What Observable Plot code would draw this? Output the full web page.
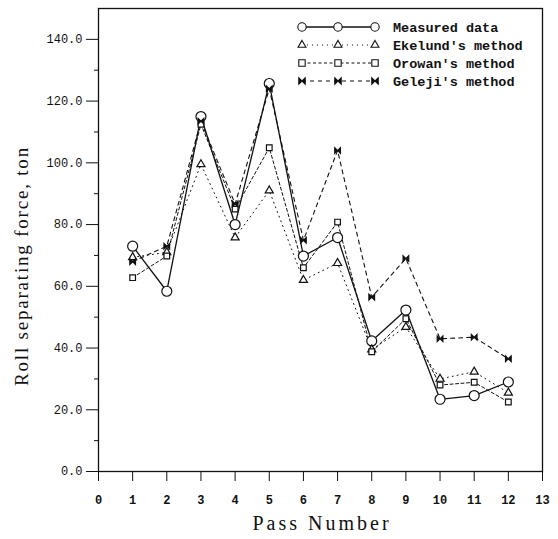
<!DOCTYPE html>
<html>
<head>
<meta charset="utf-8">
<script src="https://cdn.jsdelivr.net/npm/d3@7"></script>
<script src="https://cdn.jsdelivr.net/npm/@observablehq/plot@0.6"></script>
<style>
  html, body { margin: 0; padding: 0; background: #fff; }
  #chart { width: 558px; height: 539px; }
</style>
</head>
<body>
<div id="chart"></div>
<script>
// ---- data ----
const passes   = [1, 2, 3, 4, 5, 6, 7, 8, 9, 10, 11, 12];
const measured = [73.0, 58.4, 115.0, 80.0, 125.7, 69.8, 75.8, 42.3, 52.3, 23.4, 24.6, 29.0];
const ekelund  = [69.4, 71.0, 99.5, 75.8, 91.0, 62.0, 67.5, 39.5, 46.8, 30.0, 32.3, 25.5];
const orowan   = [62.8, 69.8, 112.5, 85.0, 104.9, 66.0, 80.8, 38.8, 49.5, 28.0, 28.9, 22.5];
const geleji   = [68.0, 73.0, 113.5, 86.7, 124.0, 74.9, 104.0, 56.5, 69.0, 43.0, 43.5, 36.5];
const seriesNames = ["Measured data", "Ekelund's method", "Orowan's method", "Geleji's method"];
const seriesValues = [measured, ekelund, orowan, geleji];
const yMajorTicks = [0, 20, 40, 60, 80, 100, 120, 140];
const yMinorTicks = [10, 30, 50, 70, 90, 110, 130];
const xTicks = [0, 1, 2, 3, 4, 5, 6, 7, 8, 9, 10, 11, 12, 13];

// ---- styles ----
const bowtie = {
  draw(context, size) {
    const r = Math.sqrt(size) / 2;
    context.moveTo(-r, -r);
    context.lineTo(-r, r);
    context.lineTo(r, -r);
    context.lineTo(r, r);
    context.closePath();
  }
};
const styles = {
  "Measured data":    {dash: null,    width: 1.3, symbol: "circle",   r: 5,   fill: "white"},
  "Ekelund's method": {dash: "1,4",   width: 1.0, symbol: "triangle", r: 3.0, fill: "white"},
  "Orowan's method":  {dash: "3,2.5", width: 1.0, symbol: "square",   r: 3.2, fill: "white"},
  "Geleji's method":  {dash: "4,4",   width: 1.1, symbol: bowtie,     r: 3.2, fill: "#111"}
};

const rows = [];
seriesNames.forEach((name, i) => {
  passes.forEach((p, j) => rows.push({series: name, pass: p, value: seriesValues[i][j]}));
});

const marks = [];
for (const name of seriesNames) {
  const s = styles[name];
  const d = rows.filter(r => r.series === name);
  marks.push(Plot.line(d, {x: "pass", y: "value", stroke: "#111", strokeWidth: s.width, strokeDasharray: s.dash}));
}
for (const name of seriesNames) {
  const s = styles[name];
  const d = rows.filter(r => r.series === name);
  marks.push(Plot.dot(d, {x: "pass", y: "value", symbol: () => s.symbol, r: s.r, stroke: "#111", strokeWidth: 1.2, fill: s.fill}));
}

const chart = Plot.plot({
  width: 558,
  height: 539,
  marginLeft: 98,
  marginRight: 16,
  marginTop: 8,
  marginBottom: 68,
  style: {background: "white", color: "#111"},
  x: {domain: [0, 13], label: null},
  y: {domain: [0, 150], label: null},
  symbol: {type: "identity"},
  marks: [
    Plot.frame({stroke: "#111", strokeWidth: 1.3}),
    Plot.axisY(yMajorTicks, {tickSize: 12, tickPadding: 4, tickFormat: d => d.toFixed(1), fontSize: 12, fontFamily: "Liberation Mono", label: null}),
    Plot.axisY(yMinorTicks, {tickSize: 4, tickFormat: () => "", label: null}),
    Plot.axisX(xTicks, {tickSize: 10, tickPadding: 14, fontSize: 12, fontFamily: "Liberation Mono", fontWeight: "bold", label: null}),
    ...marks
  ]
});

document.getElementById("chart").appendChild(chart);

const svg = d3.select(chart);
// axis titles
svg.append("text")
  .attr("x", 322).attr("y", 530)
  .attr("text-anchor", "middle")
  .style("font-family", "Liberation Serif")
  .style("font-size", "20px")
  .style("letter-spacing", "3px")
  .attr("fill", "#111")
  .text("Pass Number");
svg.append("text")
  .attr("transform", "translate(28,266) rotate(-90)")
  .attr("text-anchor", "middle")
  .style("font-family", "Liberation Serif")
  .style("font-size", "19px")
  .style("letter-spacing", "1.8px")
  .attr("fill", "#111")
  .text("Roll separating force, ton");

// legend
const sym = (s) => d3.symbol().type(s === "circle" ? d3.symbolCircle : s === "triangle" ? d3.symbolTriangle : s === "square" ? d3.symbolSquare : s);
const lg = svg.append("g");
seriesNames.forEach((name, i) => {
  const s = styles[name];
  const y = 27 + i * 18;
  lg.append("line").attr("x1", 302).attr("x2", 375).attr("y1", y).attr("y2", y)
    .attr("stroke", "#111").attr("stroke-width", s.width)
    .attr("stroke-dasharray", s.dash);
  [302, 338, 375].forEach(x => {
    const size = s.symbol === "circle" ? Math.PI * 4.2 * 4.2 : s.symbol === "triangle" ? s.r * s.r * 3 : (2 * s.r) * (2 * s.r);
    lg.append("path").attr("d", sym(s.symbol).size(size)())
      .attr("transform", `translate(${x},${y})`)
      .attr("fill", s.fill).attr("stroke", "#111").attr("stroke-width", 1.1);
  });
  lg.append("text").attr("x", 393).attr("y", y).attr("dy", "0.35em")
    .attr("text-anchor", "start")
    .style("font-family", "Liberation Mono").style("font-size", "13.5px")
    .style("font-weight", "bold")
    .attr("fill", "#111").text(name);
});
</script>
</body>
</html>
